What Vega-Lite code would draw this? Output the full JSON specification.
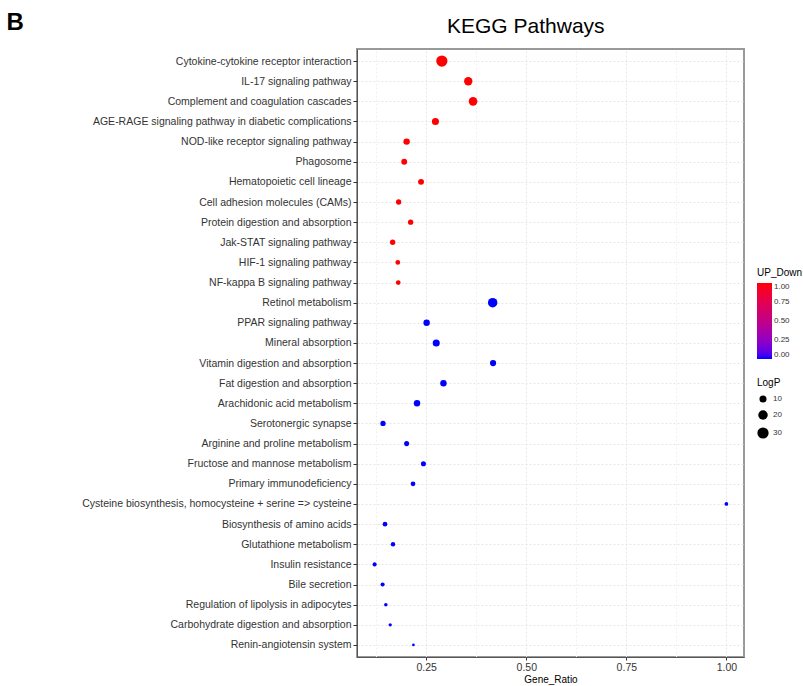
{
  "$schema": "https://vega.github.io/schema/vega-lite/v6.json",
  "autosize": {"type": "none"},
  "padding": {"left": 357, "top": 49, "right": 59, "bottom": 29},
  "width": 387,
  "height": 608,
  "background": "white",
  "title": {"text": "KEGG Pathways", "anchor": "start", "frame": "group", "dx": 90, "fontSize": 21, "font": "Liberation Sans", "fontWeight": "normal", "color": "#000000", "baseline": "alphabetic", "offset": -44},
  "data": {"values": [
    {"Pathway": "Cytokine-cytokine receptor interaction", "Gene_Ratio": 0.289, "LogP": 30, "UP_Down": 1},
    {"Pathway": "IL-17 signaling pathway", "Gene_Ratio": 0.355, "LogP": 15, "UP_Down": 1},
    {"Pathway": "Complement and coagulation cascades", "Gene_Ratio": 0.367, "LogP": 16, "UP_Down": 1},
    {"Pathway": "AGE-RAGE signaling pathway in diabetic complications", "Gene_Ratio": 0.273, "LogP": 10, "UP_Down": 1},
    {"Pathway": "NOD-like receptor signaling pathway", "Gene_Ratio": 0.201, "LogP": 8, "UP_Down": 1},
    {"Pathway": "Phagosome", "Gene_Ratio": 0.195, "LogP": 6.5, "UP_Down": 1},
    {"Pathway": "Hematopoietic cell lineage", "Gene_Ratio": 0.237, "LogP": 6.5, "UP_Down": 1},
    {"Pathway": "Cell adhesion molecules (CAMs)", "Gene_Ratio": 0.181, "LogP": 5, "UP_Down": 1},
    {"Pathway": "Protein digestion and absorption", "Gene_Ratio": 0.211, "LogP": 5, "UP_Down": 1},
    {"Pathway": "Jak-STAT signaling pathway", "Gene_Ratio": 0.166, "LogP": 5, "UP_Down": 1},
    {"Pathway": "HIF-1 signaling pathway", "Gene_Ratio": 0.179, "LogP": 3.8, "UP_Down": 1},
    {"Pathway": "NF-kappa B signaling pathway", "Gene_Ratio": 0.180, "LogP": 3.8, "UP_Down": 1},
    {"Pathway": "Retinol metabolism", "Gene_Ratio": 0.416, "LogP": 20, "UP_Down": 0},
    {"Pathway": "PPAR signaling pathway", "Gene_Ratio": 0.251, "LogP": 8, "UP_Down": 0},
    {"Pathway": "Mineral absorption", "Gene_Ratio": 0.275, "LogP": 10, "UP_Down": 0},
    {"Pathway": "Vitamin digestion and absorption", "Gene_Ratio": 0.417, "LogP": 7.3, "UP_Down": 0},
    {"Pathway": "Fat digestion and absorption", "Gene_Ratio": 0.293, "LogP": 8, "UP_Down": 0},
    {"Pathway": "Arachidonic acid metabolism", "Gene_Ratio": 0.227, "LogP": 8, "UP_Down": 0},
    {"Pathway": "Serotonergic synapse", "Gene_Ratio": 0.142, "LogP": 5, "UP_Down": 0},
    {"Pathway": "Arginine and proline metabolism", "Gene_Ratio": 0.201, "LogP": 4.5, "UP_Down": 0},
    {"Pathway": "Fructose and mannose metabolism", "Gene_Ratio": 0.243, "LogP": 4.5, "UP_Down": 0},
    {"Pathway": "Primary immunodeficiency", "Gene_Ratio": 0.217, "LogP": 3.8, "UP_Down": 0},
    {"Pathway": "Cysteine biosynthesis, homocysteine + serine => cysteine", "Gene_Ratio": 1.0, "LogP": 2.2, "UP_Down": 0},
    {"Pathway": "Biosynthesis of amino acids", "Gene_Ratio": 0.147, "LogP": 3.8, "UP_Down": 0},
    {"Pathway": "Glutathione metabolism", "Gene_Ratio": 0.167, "LogP": 3.3, "UP_Down": 0},
    {"Pathway": "Insulin resistance", "Gene_Ratio": 0.121, "LogP": 2.8, "UP_Down": 0},
    {"Pathway": "Bile secretion", "Gene_Ratio": 0.141, "LogP": 2.8, "UP_Down": 0},
    {"Pathway": "Regulation of lipolysis in adipocytes", "Gene_Ratio": 0.149, "LogP": 1.9, "UP_Down": 0},
    {"Pathway": "Carbohydrate digestion and absorption", "Gene_Ratio": 0.160, "LogP": 1.6, "UP_Down": 0},
    {"Pathway": "Renin-angiotensin system", "Gene_Ratio": 0.218, "LogP": 1.0, "UP_Down": 0}
  ]},
  "mark": {"type": "circle", "opacity": 1},
  "encoding": {
    "y": {
      "field": "Pathway", "type": "nominal", "sort": null,
      "scale": {"type": "point", "padding": 0.6},
      "axis": {
        "title": "B", "titleAngle": 0, "titleAlign": "left", "titleBaseline": "alphabetic",
        "titleX": -351, "titleY": -19.7, "titleFontSize": 24, "titleFontWeight": "bold",
        "titleColor": "#000000", "titleFont": "Liberation Sans",
        "labelFont": "Liberation Sans", "labelFontSize": 10.5, "labelColor": "#333333", "labelLimit": 400,
        "labelPadding": 2, "tickSize": 4, "tickColor": "#333333",
        "domainColor": "#555555", "domainWidth": 1,
        "grid": true, "gridColor": "#e6e6e6", "gridDash": [2, 2]
      }
    },
    "x": {
      "field": "Gene_Ratio", "type": "quantitative",
      "scale": {"domain": [0.077, 1.044], "nice": false, "zero": false},
      "axis": {
        "title": "Gene_Ratio", "titleFont": "Liberation Sans", "titleFontSize": 10, "titleFontWeight": "normal",
        "titleColor": "#000000", "titlePadding": 2,
        "values": [0.125, 0.25, 0.375, 0.5, 0.625, 0.75, 0.875, 1.0],
        "labelExpr": "(datum.value*4)%1==0 ? format(datum.value,'.2f') : ''",
        "labelFont": "Liberation Sans", "labelFontSize": 10.5, "labelColor": "#333333", "labelPadding": 2,
        "tickSize": 3, "tickColor": "#333333",
        "tickOpacity": {"condition": {"test": "(datum.value*4)%1==0", "value": 1}, "value": 0},
        "domainColor": "#555555", "domainWidth": 1,
        "grid": true, "gridDash": [2, 2],
        "gridColor": {"condition": {"test": "(datum.value*4)%1==0", "value": "#e6e6e6"}, "value": "#f0f0f0"}
      }
    },
    "color": {
      "field": "UP_Down", "type": "quantitative",
      "scale": {"domain": [0, 1], "range": ["#0000ff", "#ff0000"], "interpolate": "lab"},
      "legend": {
        "orient": "none", "legendX": 400, "legendY": 219, "direction": "vertical",
        "title": "UP_Down", "titleFont": "Liberation Sans", "titleFontSize": 10, "titleFontWeight": "normal", "titleColor": "#000000", "titlePadding": 5,
        "gradientLength": 76, "gradientThickness": 15, "gradientStrokeWidth": 0,
        "values": [0, 0.25, 0.5, 0.75, 1], "format": ".2f",
        "labelFont": "Liberation Sans", "labelFontSize": 8, "labelColor": "#333333"
      }
    },
    "size": {
      "field": "LogP", "type": "quantitative",
      "scale": {"type": "pow", "exponent": 0.84, "domain": [0, 40], "range": [0, 161]},
      "legend": {
        "orient": "none", "legendX": 400, "legendY": 329,
        "title": "LogP", "titleFont": "Liberation Sans", "titleFontSize": 10, "titleFontWeight": "normal", "titleColor": "#000000", "titlePadding": 7,
        "values": [10, 20, 30], "symbolType": "circle", "symbolFillColor": "#000000", "symbolStrokeColor": "#000000", "symbolStrokeWidth": 0, "symbolOpacity": 1,
        "labelFont": "Liberation Sans", "labelFontSize": 8, "labelColor": "#333333", "rowPadding": 7
      }
    }
  },
  "config": {"view": {"stroke": "#999999", "strokeWidth": 2}, "font": "Liberation Sans"}
}
